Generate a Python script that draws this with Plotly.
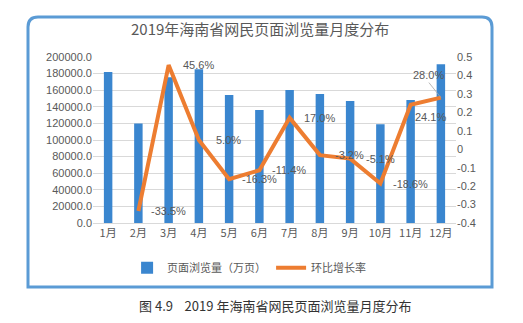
import plotly.graph_objects as go

months = ["1月", "2月", "3月", "4月", "5月", "6月", "7月", "8月", "9月", "10月", "11月", "12月"]
page_views = [182000, 120000, 175500, 185200, 154200, 136100, 160200, 155400, 147000, 118900, 148200, 191200]
growth = [None, -0.335, 0.456, 0.050, -0.163, -0.114, 0.170, -0.032, -0.051, -0.186, 0.241, 0.280]
growth_labels = ["", "-33.5%", "45.6%", "5.0%", "-16.3%", "-11.4%", "17.0%", "-3.2%", "-5.1%", "-18.6%", "24.1%", "28.0%"]
left_ticks = [0, 20000, 40000, 60000, 80000, 100000, 120000, 140000, 160000, 180000, 200000]
right_ticks = [-0.4, -0.3, -0.2, -0.1, 0, 0.1, 0.2, 0.3, 0.4, 0.5]
right_tick_text = ["-0.4", "-0.3", "-0.2", "-0.1", "0", "0.1", "0.2", "0.3", "0.4", "0.5"]

FONT = "Noto Sans CJK SC, Liberation Sans, sans-serif"
NUMFONT = "Liberation Sans, sans-serif"
GRAY = "#595959"

fig = go.Figure()
fig.add_trace(go.Bar(
    x=months, y=page_views, name="页面浏览量（万页）",
    marker=dict(color="#3A86CF", line=dict(width=0)), width=0.28,
))
fig.add_trace(go.Scatter(
    x=months, y=growth, name="环比增长率", yaxis="y2", mode="lines",
    line=dict(color="#ED7D31", width=4),
    cliponaxis=False,
))

# data labels (offset to the right of each point, like the original)
for i, (m, g, t) in enumerate(zip(months, growth, growth_labels)):
    if g is None or not t:
        continue
    if i == 11:
        fig.add_annotation(
            x=m, y=g, xref="x", yref="y2", text=t,
            showarrow=True, arrowhead=0, arrowwidth=0.8, arrowcolor="#A6A6A6",
            ax=-12, ay=-15, xanchor="center", yanchor="bottom",
            font=dict(size=11, color=GRAY, family=NUMFONT),
        )
    elif i == 10:
        fig.add_annotation(
            x=m, y=g, xref="x", yref="y2", text=t, showarrow=False,
            xanchor="center", yanchor="middle", xshift=20, yshift=-12,
            font=dict(size=11, color=GRAY, family=NUMFONT),
        )
    else:
        fig.add_annotation(
            x=m, y=g, xref="x", yref="y2", text=t, showarrow=False,
            xanchor="center", yanchor="middle", xshift=30, yshift=0,
            font=dict(size=11, color=GRAY, family=NUMFONT),
        )

fig.add_annotation(
    x=0.46, y=1.17, xref="paper", yref="paper", yanchor="middle",
    text="2019年海南省网民页面浏览量月度分布",
    showarrow=False, font=dict(size=15, color=GRAY, family=FONT),
)
fig.add_annotation(
    x=0.50, y=-0.495, xref="paper", yref="paper", yanchor="middle",
    text="图 4.9    2019 年海南省网民页面浏览量月度分布",
    showarrow=False, font=dict(size=13, color="#333333", family=FONT),
)

fig.update_layout(
    width=523, height=323,
    margin=dict(l=93, r=67, t=57, b=100),
    paper_bgcolor="white", plot_bgcolor="white",
    showlegend=True,
    legend=dict(orientation="h", x=0.43, xanchor="center", y=-0.27, yanchor="middle",
                font=dict(size=11, color=GRAY, family=FONT), itemwidth=30,
                traceorder="normal"),
    xaxis=dict(showgrid=False, showline=True, linecolor="#D9D9D9", linewidth=1,
               ticks="", tickfont=dict(size=11, color=GRAY, family=FONT)),
    yaxis=dict(range=[0, 200000], tickvals=left_ticks, tickformat=".1f",
               showgrid=True, gridcolor="#D9D9D9", gridwidth=1, zeroline=False,
               tickfont=dict(size=11, color=GRAY, family=NUMFONT),
               ticks="", ticklen=0),
    yaxis2=dict(range=[-0.4, 0.5], overlaying="y", side="right",
                tickvals=right_ticks, ticktext=right_tick_text, showgrid=False,
                zeroline=False,
                tickfont=dict(size=11, color=GRAY, family=NUMFONT)),
    bargap=0.2,
)

# Rounded border frame (pixel coords converted to paper)
pw, ph = 523 - 93 - 67, 323 - 57 - 100
def px(x):
    return (x - 93) / pw
def py(y):
    return (323 - 100 - y) / ph
x0, x1, y0, y1, r = 28, 492, 17, 287, 10
path = (f"M {px(x0 + r)},{py(y0)} L {px(x1 - r)},{py(y0)} "
        f"Q {px(x1)},{py(y0)} {px(x1)},{py(y0 + r)} L {px(x1)},{py(y1)} "
        f"L {px(x0)},{py(y1)} L {px(x0)},{py(y0 + r)} "
        f"Q {px(x0)},{py(y0)} {px(x0 + r)},{py(y0)} Z")
fig.add_shape(type="path", path=path, xref="paper", yref="paper",
              line=dict(color="#5B9BD5", width=3), layer="below")

fig.write_html("out.html")
